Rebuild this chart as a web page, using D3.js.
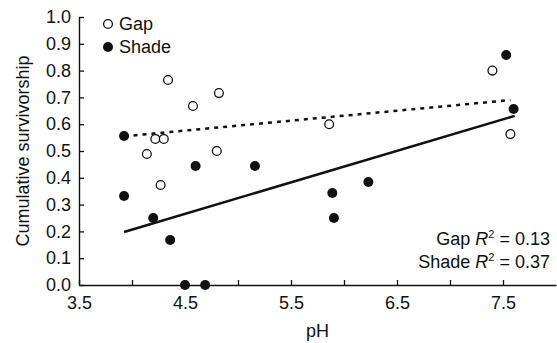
<!DOCTYPE html>
<html>
<head>
<meta charset="utf-8">
<script src="https://cdn.jsdelivr.net/npm/d3@7"></script>
<style>
  body { margin: 0; background: #fff; }
  text { font-family: "Liberation Sans", Arial, sans-serif; fill: #111; }
</style>
</head>
<body>
<div id="chart"></div>
<script>
// values
const gapPH = [4.34, 4.575, 4.82, 4.22, 4.30, 4.14, 4.80, 4.27, 7.40, 5.86, 7.57];
const gapSurv = [0.765, 0.668, 0.716, 0.545, 0.545, 0.489, 0.50, 0.373, 0.80, 0.60, 0.563];

const shadePH = [3.925, 4.60, 5.16, 3.925, 4.20, 4.36, 4.50, 4.69, 6.23, 5.89, 5.905, 7.53, 7.60];
const shadeSurv = [0.556, 0.444, 0.444, 0.332, 0.25, 0.168, 0.0, 0.0, 0.384, 0.343, 0.25, 0.858, 0.657];

// regression lines (start and end, pH / survivorship)
const gapFit = [[3.93, 0.555], [7.57, 0.69]];
const shadeFit = [[3.925, 0.198], [7.61, 0.631]];

const xTicks = [3.5, 4.0, 4.5, 5.0, 5.5, 6.0, 6.5, 7.0, 7.5];
const xLabels = [3.5, 4.5, 5.5, 6.5, 7.5];
const yTicks = [0, 0.1, 0.2, 0.3, 0.4, 0.5, 0.6, 0.7, 0.8, 0.9, 1.0];

const width = 557, height = 343;
const margin = {top: 17, right: 1, bottom: 58, left: 79};

const svg = d3.select("#chart")
  .append("svg")
  .attr("width", width)
  .attr("height", height);

const x = d3.scaleLinear()
  .domain([3.5, 8.0])
  .range([margin.left, width - margin.right]);

const y = d3.scaleLinear()
  .domain([0, 1])
  .range([height - margin.bottom, margin.top]);

// x axis, ticks point inward
const xAxis = svg.append("g")
  .attr("transform", `translate(0,${height - margin.bottom})`)
  .call(d3.axisBottom(x)
    .tickValues(xTicks)
    .tickSizeInner(-5)
    .tickSizeOuter(0)
    .tickPadding(11)
    .tickFormat(d => xLabels.includes(d) ? d3.format(".1f")(d) : ""));
xAxis.select(".domain").attr("stroke", "#111").attr("stroke-width", 1.4);
xAxis.selectAll(".tick line").attr("stroke", "#111").attr("stroke-width", 1.3);
xAxis.selectAll("text").attr("font-size", "18px").attr("fill", "#111");

// y axis
const yAxis = svg.append("g")
  .attr("transform", `translate(${margin.left},0)`)
  .call(d3.axisLeft(y)
    .tickValues(yTicks)
    .tickSizeInner(-5)
    .tickSizeOuter(0)
    .tickPadding(8)
    .tickFormat(d3.format(".1f")));
yAxis.select(".domain").attr("stroke", "#111").attr("stroke-width", 1.4);
yAxis.selectAll(".tick line").attr("stroke", "#111").attr("stroke-width", 1.3);
yAxis.selectAll("text").attr("font-size", "18px").attr("fill", "#111");

// axis titles
svg.append("text")
  .attr("x", (margin.left + width - margin.right) / 2)
  .attr("y", 337)
  .attr("text-anchor", "middle")
  .attr("font-size", "18px")
  .text("pH");

svg.append("text")
  .attr("transform", `translate(29,${(margin.top + height - margin.bottom) / 2}) rotate(-90)`)
  .attr("text-anchor", "middle")
  .attr("font-size", "18px")
  .text("Cumulative survivorship");

// fit lines
const line = d3.line()
  .x(d => x(d[0]))
  .y(d => y(d[1]));

svg.append("path")
  .datum(gapFit)
  .attr("d", line)
  .attr("fill", "none")
  .attr("stroke", "#111")
  .attr("stroke-width", 2.5)
  .attr("stroke-dasharray", "4,5");

svg.append("path")
  .datum(shadeFit)
  .attr("d", line)
  .attr("fill", "none")
  .attr("stroke", "#111")
  .attr("stroke-width", 2.5);

// points
svg.selectAll(".gap")
  .data(gapPH)
  .enter()
  .append("circle")
    .attr("class", "gap")
    .attr("cx", d => x(d))
    .attr("cy", (d, i) => y(gapSurv[i]))
    .attr("r", 4.4)
    .attr("fill", "#fff")
    .attr("stroke", "#111")
    .attr("stroke-width", 1.3);

svg.selectAll(".shade")
  .data(shadePH)
  .enter()
  .append("circle")
    .attr("class", "shade")
    .attr("cx", d => x(d))
    .attr("cy", (d, i) => y(shadeSurv[i]))
    .attr("r", 5)
    .attr("fill", "#111");

// legend
const legend = svg.append("g");
legend.append("circle")
  .attr("cx", 108).attr("cy", 24).attr("r", 4.4)
  .attr("fill", "#fff").attr("stroke", "#111").attr("stroke-width", 1.3);
legend.append("text")
  .attr("x", 119).attr("y", 30)
  .attr("font-size", "18px")
  .text("Gap");
legend.append("circle")
  .attr("cx", 108).attr("cy", 47).attr("r", 5)
  .attr("fill", "#111");
legend.append("text")
  .attr("x", 119).attr("y", 53)
  .attr("font-size", "18px")
  .text("Shade");

// R squared notes
const notes = [["Gap ", "0.13", 245], ["Shade ", "0.37", 268]];
notes.forEach(n => {
  const t = svg.append("text")
    .attr("x", 550).attr("y", n[2])
    .attr("text-anchor", "end")
    .attr("font-size", "18px");
  t.append("tspan").text(n[0]);
  t.append("tspan").attr("font-style", "italic").text("R");
  t.append("tspan").attr("font-size", "11px").attr("dy", -7).text("2");
  t.append("tspan").attr("dy", 7).text(" = " + n[1]);
});
</script>
</body>
</html>
